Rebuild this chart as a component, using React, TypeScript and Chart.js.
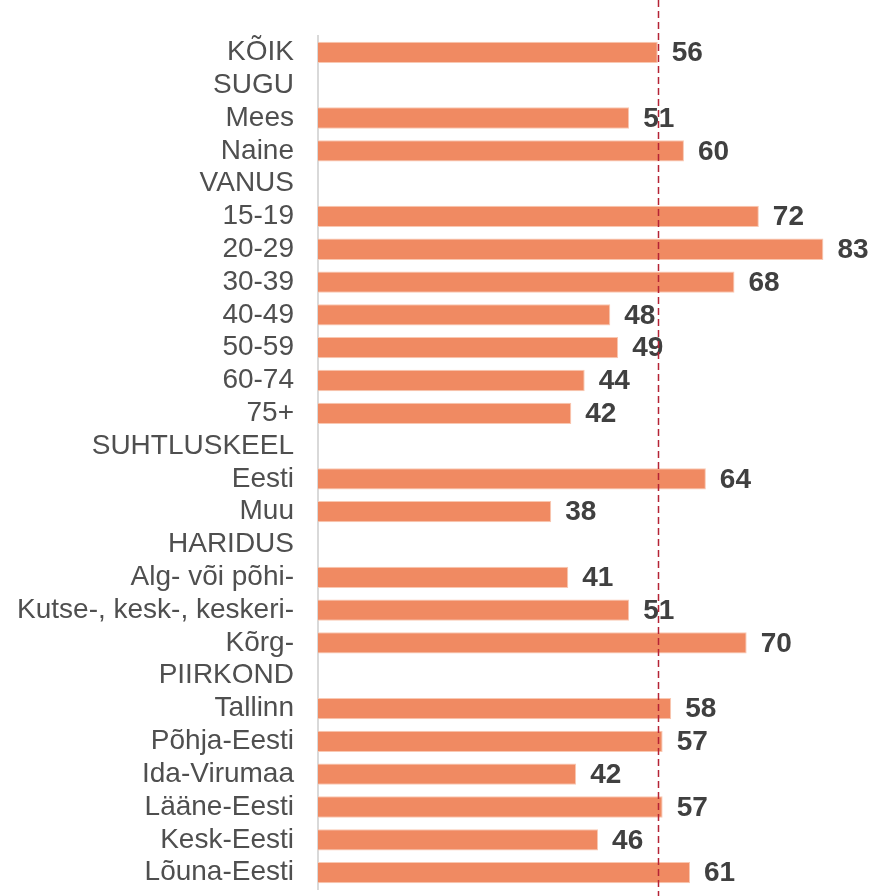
import React, { useEffect, useRef } from "react";
import { Chart, registerables } from "chart.js";

Chart.register(...registerables);

const categories = [
  "KÕIK", "SUGU", "Mees", "Naine", "VANUS", "15-19", "20-29", "30-39", "40-49", "50-59",
  "60-74", "75+", "SUHTLUSKEEL", "Eesti", "Muu", "HARIDUS", "Alg- või põhi-",
  "Kutse-, kesk-, keskeri-", "Kõrg-", "PIIRKOND", "Tallinn", "Põhja-Eesti", "Ida-Virumaa",
  "Lääne-Eesti", "Kesk-Eesti", "Lõuna-Eesti",
];
// bar lengths
const values: (number | null)[] = [
  55.8, null, 51.1, 60.1, null, 72.4, 83.0, 68.4, 48.0, 49.3,
  43.8, 41.6, null, 63.7, 38.3, null, 41.1,
  51.1, 70.4, null, 58.0, 56.6, 42.4,
  56.6, 46.0, 61.1,
];
// printed value labels
const valueLabels: (string | null)[] = [
  "56", null, "51", "60", null, "72", "83", "68", "48", "49",
  "44", "42", null, "64", "38", null, "41",
  "51", "70", null, "58", "57", "42",
  "57", "46", "61",
];
const referenceValue = 55.8;
const xMax = 90;

const FONT = "'Liberation Sans', Arial, sans-serif";

export default function App() {
  const ref = useRef<HTMLCanvasElement>(null);
  useEffect(() => {
    if (!ref.current) return;
    const labelPlugin = {
      id: "valueLabels",
      afterDatasetsDraw(chart: any) {
        const ctx = chart.ctx;
        const meta = chart.getDatasetMeta(0);
        ctx.save();
        ctx.font = `bold 28px ${FONT}`;
        ctx.fillStyle = "#404040";
        ctx.textAlign = "left";
        ctx.textBaseline = "middle";
        meta.data.forEach((el: any, i: number) => {
          const t = valueLabels[i];
          if (values[i] === null || !t) return;
          ctx.fillText(t, el.x + 14, el.y + 1);
        });
        ctx.restore();
      },
    };
    const refLinePlugin = {
      id: "refLine",
      afterDatasetsDraw(chart: any) {
        const ctx = chart.ctx;
        const x = Math.round(chart.scales.x.getPixelForValue(referenceValue)) + 0.5;
        ctx.save();
        ctx.strokeStyle = "#B52335";
        ctx.lineWidth = 1.5;
        ctx.setLineDash([7, 4]);
        ctx.beginPath();
        ctx.moveTo(x, 0);
        ctx.lineTo(x, chart.height);
        ctx.stroke();
        ctx.restore();
      },
    };
    const chart = new Chart(ref.current, {
      type: "bar",
      data: {
        labels: categories,
        datasets: [
          {
            data: values as any,
            backgroundColor: "#F08A62",
            borderColor: "#F9C8B2",
            borderWidth: 1,
            categoryPercentage: 1,
            barPercentage: 0.65,
          },
        ],
      },
      options: {
        indexAxis: "y",
        responsive: false,
        animation: false,
        layout: { padding: { left: 0, right: 5, top: 36, bottom: 7 } },
        plugins: {
          legend: { display: false },
          tooltip: { enabled: false },
        },
        scales: {
          x: {
            display: false,
            min: 0,
            max: xMax,
          },
          y: {
            afterFit(scale: any) {
              scale.width = 318;
              scale.paddingTop = 0;
              scale.paddingBottom = 0;
            },
            grid: { display: false, drawTicks: false },
            border: { display: true, color: "#D9D9D9", width: 2 },
            ticks: {
              padding: 24,
              color: "#4F4F4F",
              font: { family: FONT, size: 28 },
              autoSkip: false,
            },
          },
        },
      },
      plugins: [labelPlugin, refLinePlugin],
    } as any);
    return () => chart.destroy();
  }, []);
  return (
    <div style={{ position: "fixed", left: 0, top: 0, width: 871, height: 896, background: "#fff" }}>
      <canvas ref={ref} width={871} height={896} style={{ display: "block" }} />
    </div>
  );
}
